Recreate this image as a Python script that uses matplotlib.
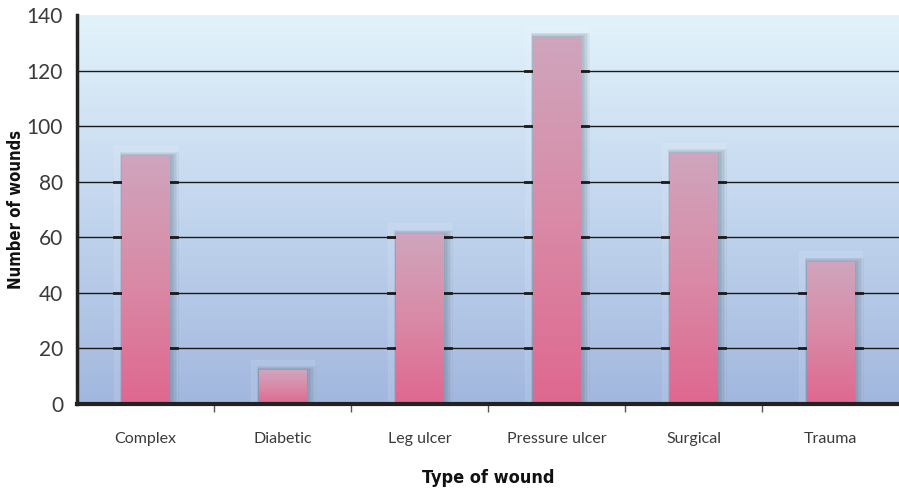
'''
Wound types bar chart
'''
import matplotlib
matplotlib.use('Agg')
import matplotlib.pyplot as plt
import numpy as np
from matplotlib.colors import LinearSegmentedColormap
from matplotlib.patches import Rectangle

wound_types = ['Complex', 'Diabetic', 'Leg ulcer', 'Pressure ulcer', 'Surgical', 'Trauma']
wound_counts = [89, 12, 61, 132, 90, 51]
y_ticks = [0, 20, 40, 60, 80, 100, 120, 140]


def main():
    fig = plt.figure(figsize=(8.99, 4.90), dpi=100)
    ax = fig.add_axes([77 / 899, 1 - 404 / 490, 1 - 77 / 899, 389 / 490])
    ax.set_xlim(-0.5, len(wound_types) - 0.5)
    ax.set_ylim(0, 140)

    # background gradient
    bg = LinearSegmentedColormap.from_list('bg', ['#a2b7de', '#c3d6ee', '#e2f3fb'])
    grad = np.linspace(0, 1, 256).reshape(-1, 1)
    ax.imshow(grad, cmap=bg, origin='lower', aspect='auto',
              extent=[-0.5, len(wound_types) - 0.5, 0, 140], zorder=0)

    for y in y_ticks[1:-1]:
        ax.axhline(y, color='#1a1a1a', lw=1.0, zorder=1)

    bar_cmap = LinearSegmentedColormap.from_list('bar', ['#df6790', '#d98aa6', '#cfa5bd'])
    width = 0.35
    for i, v in enumerate(wound_counts):
        # pale frame behind each bar
        ax.add_patch(Rectangle((i - 0.23, 0), 0.46, v + 4, facecolor='white',
                               alpha=0.10, edgecolor='white', lw=0.8, zorder=1.5))
        # soft shadow, heavier on right side
        for k in range(6):
            pad = 0.008 * (k + 1)
            ax.add_patch(Rectangle((i - width / 2 - pad * 0.2, 0), width + pad * 1.6,
                                   v + pad * 35, facecolor='#4a5a70', alpha=0.07,
                                   lw=0, zorder=2))
        ax.imshow(grad, cmap=bar_cmap, origin='lower', aspect='auto',
                  extent=[i - width / 2, i + width / 2, 0, v], zorder=3)
        # thick grid segments next to bars
        for y in y_ticks[1:-1]:
            if y < v:
                ax.plot([i - 0.23, i + 0.23], [y, y], color='#1a1a1a', lw=2, zorder=2.5)

    ax.set_yticks(y_ticks)
    ax.set_yticklabels([str(t) for t in y_ticks], fontsize=15, color='#3a3a3a',
                       fontfamily='Lato')
    ax.set_xticks(range(len(wound_types)))
    ax.set_xticklabels(wound_types, fontsize=11.5, color='#3a3a3a', fontfamily='Lato')
    ax.set_xticks(np.arange(0.5, len(wound_types) - 0.5), minor=True)
    ax.tick_params(axis='x', which='major', length=0, pad=20)
    ax.tick_params(axis='x', which='minor', length=6, width=1, color='#555555', direction='out')
    ax.tick_params(axis='y', length=0, pad=10)

    for side in ['top', 'right']:
        ax.spines[side].set_visible(False)
    ax.spines['left'].set_linewidth(2.5)
    ax.spines['left'].set_color('#222222')
    ax.spines['bottom'].set_linewidth(3)
    ax.spines['bottom'].set_color('#222222')
    ax.spines['left'].set_zorder(5)
    ax.spines['bottom'].set_zorder(5)

    ax.set_ylabel('Number of wounds', fontsize=12, fontweight='bold',
                  fontfamily='DejaVu Sans', fontstretch='condensed',
                  color='#111111', labelpad=1)
    ax.set_xlabel('Type of wound', fontsize=13, fontweight='bold',
                  fontfamily='DejaVu Sans', fontstretch='condensed',
                  color='#111111', labelpad=17)

    fig.savefig('out.png', dpi=100)


if __name__ == '__main__':
    main()
